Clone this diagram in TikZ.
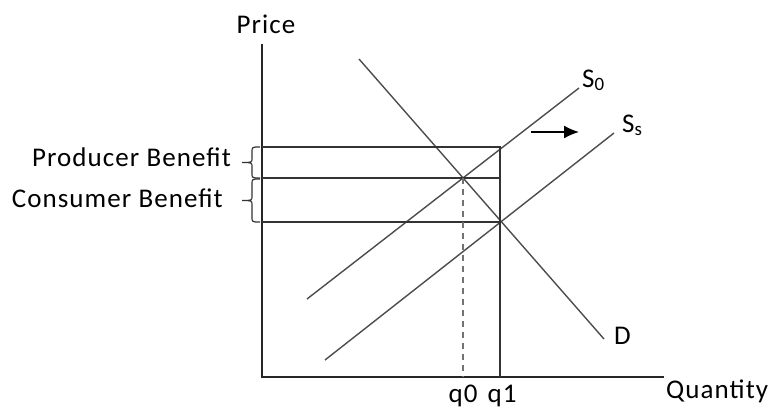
\documentclass[tikz,border=0pt]{standalone}
\usepackage{fontspec}
\setmainfont{Carlito}[LetterSpace=4]
\usetikzlibrary{arrows.meta,positioning}

\begin{document}
\begin{tikzpicture}[x=1pt,y=-1pt,>=Latex,
  axis/.style={line width=1.5pt,black!85},
  curve/.style={line width=1.4pt,black!70},
  level/.style={line width=1.5pt,black!80},
  label/.style={font=\fontsize{27}{31}\selectfont,inner sep=0pt},
  bracket/.style={line width=1.2pt,black!80}]
  \useasboundingbox (0,0) rectangle (771,408);
  % axes
  \coordinate (origin) at (262,377);
  \coordinate (ytop) at (262,44);
  \coordinate (xend) at (664,377);
  \draw[axis] (ytop) -- (origin) -- (xend);
  \node[label,anchor=base] (price) at (266,33) {Price};
  \node[label,anchor=base west] (quantity) at (666,398) {Quantity};
  % demand and the two supply curves
  \coordinate (d0) at (359,59);   \coordinate (d1) at (604,339);
  \coordinate (so0) at (307,299); \coordinate (so1) at (579,88);
  \coordinate (ss0) at (325,360); \coordinate (ss1) at (614,133);
  \draw[curve] (d0) -- (d1);
  \draw[curve] (so0) -- (so1);
  \draw[curve] (ss0) -- (ss1);
  \node[label,anchor=base west] (dlabel) at (614,344) {D};
  \node[label,anchor=base west] (solabel) at (582,87) {S\textsubscript{0}};
  \node[label,anchor=base west] (sslabel) at (622,132) {S\textsubscript{s}};
  \coordinate (shift0) at (531,132); \coordinate (shift1) at (579,132);
  \draw[->,line width=1.4pt,arrows={-Latex[length=15pt,width=13pt]}] (shift0) -- (shift1);
  % price levels and quantities
  \coordinate (e0) at (463,178);
  \coordinate (e1) at (500,222);
  \coordinate (etop) at (500,147);
  \coordinate (q0) at (463,377);
  \coordinate (q1) at (500,377);
  \coordinate (ptop) at (262,147);
  \coordinate (pmid) at (262,178);
  \coordinate (pbot) at (262,222);
  \draw[level] (ptop) -- (etop) -- (q1);
  \draw[level] (pmid) -- (e0 -| etop);
  \draw[level] (pbot) -- (e1);
  \draw[level,black!55,dash pattern=on 6pt off 5pt] (e0) -- (q0);
  \node[label,anchor=base] (q0label) at (463,402) {q0};
  \node[label,anchor=base] (q1label) at (502,402) {q1};
  % braces
  \draw[bracket] (260,147) .. controls (252,147) .. (252,152) -- (252,158)
    .. controls (252,162.5) .. (242,162.5) .. controls (252,162.5) .. (252,167)
    -- (252,173) .. controls (252,178) .. (260,178);
  \draw[bracket] (260,179) .. controls (252,179) .. (252,184) -- (252,196)
    .. controls (252,200.5) .. (242,200.5) .. controls (252,200.5) .. (252,205)
    -- (252,217) .. controls (252,222) .. (260,222);
  \node[label,anchor=base east] (producer) at (231,166) {Producer Benefit};
  \node[label,anchor=base east] (consumer) at (223,207) {Consumer Benefit};
\end{tikzpicture}
\end{document}
